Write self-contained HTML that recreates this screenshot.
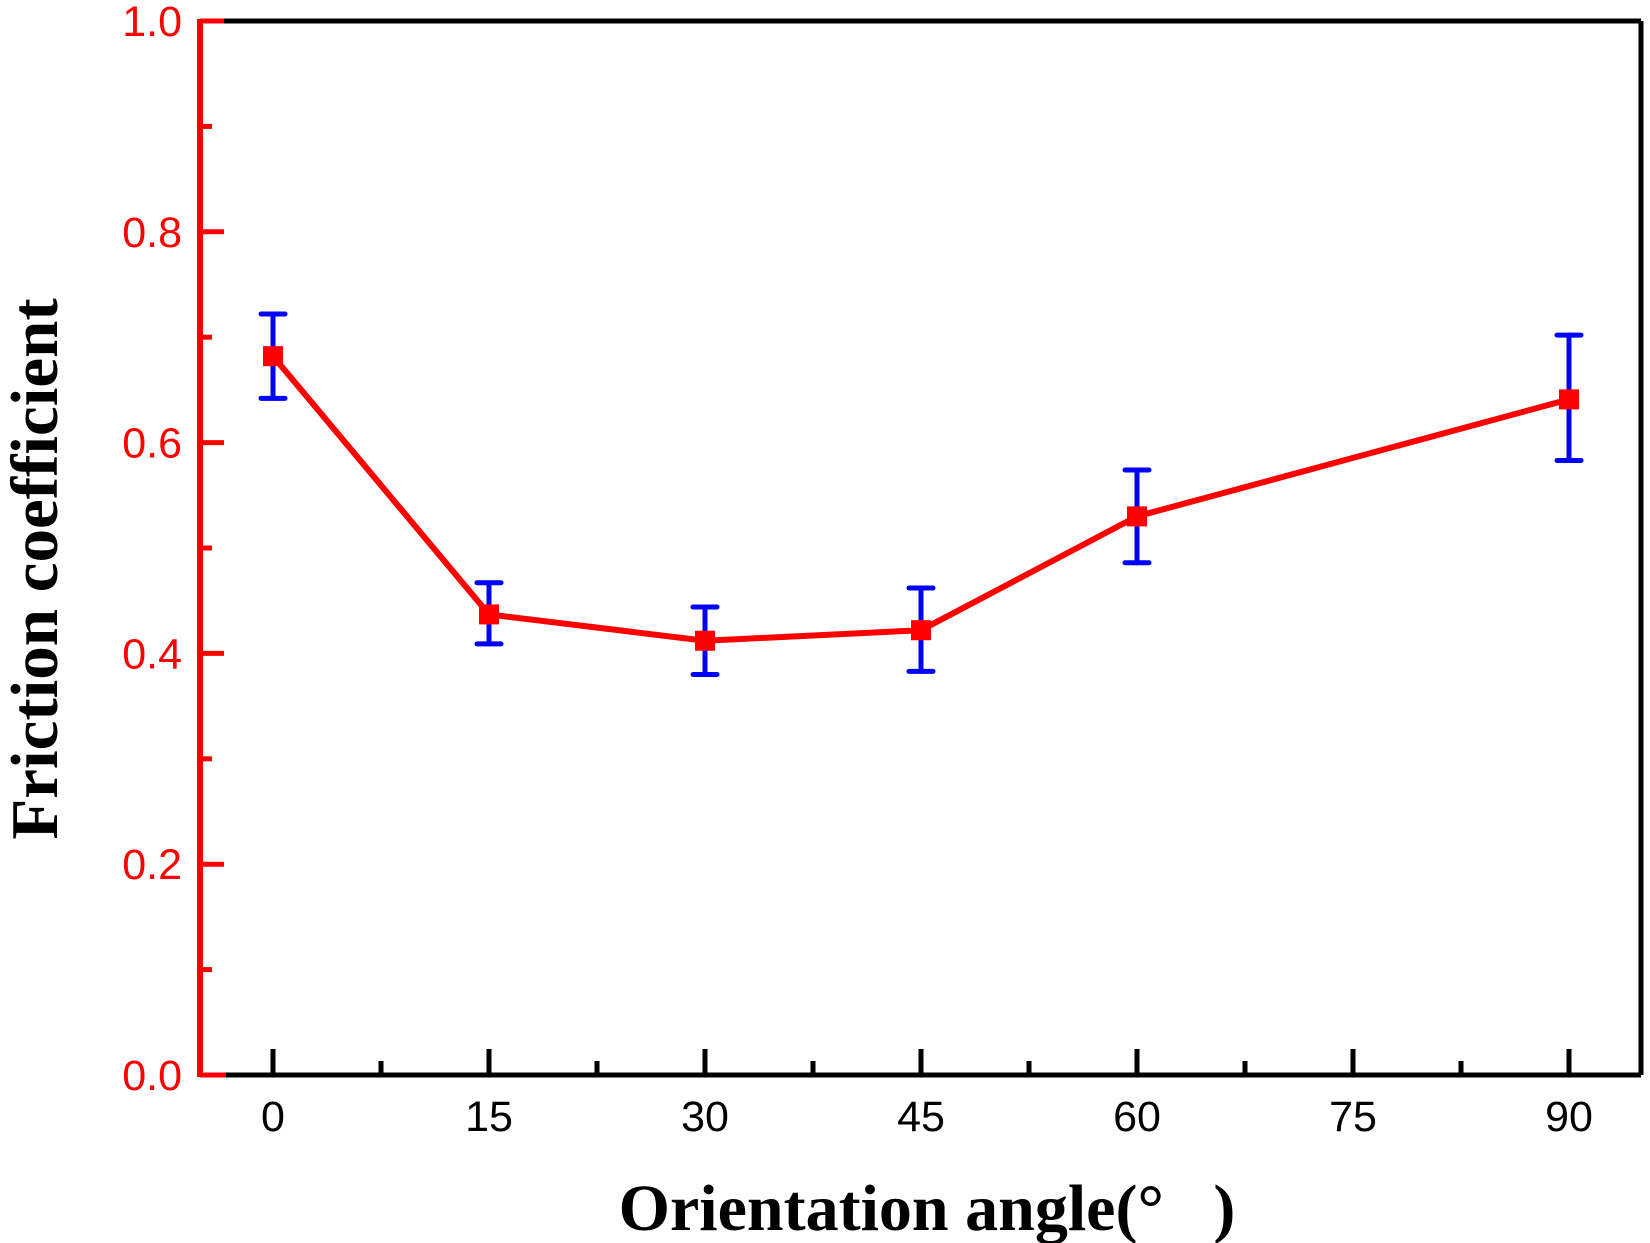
<!DOCTYPE html>
<html><head><meta charset="utf-8"><style>body{margin:0;background:#fff}svg{display:block}</style></head>
<body>
<svg id="chart" width="1650" height="1243" viewBox="0 0 1650 1243" xmlns="http://www.w3.org/2000/svg">
<g id="plot"></g>
</svg>
<script>
const categories = [0, 15, 30, 45, 60, 90];
const values = [0.682, 0.437, 0.412, 0.422, 0.530, 0.641];
const errUpper = [0.722, 0.467, 0.444, 0.462, 0.574, 0.702];
const errLower = [0.642, 0.409, 0.380, 0.383, 0.486, 0.583];
const xTicks = [0, 15, 30, 45, 60, 75, 90];
const yTicks = [0.0, 0.2, 0.4, 0.6, 0.8, 1.0];

const L = 200, R = 1641, T = 21, B = 1075;
const X = v => 273 + v * (216 / 15);
const Y = v => B - v * (B - T);
const NS = 'http://www.w3.org/2000/svg';
const g = document.getElementById('plot');
function mk(tag, attrs, parent) {
  const e = document.createElementNS(NS, tag);
  for (const k in attrs) e.setAttribute(k, attrs[k]);
  (parent || g).appendChild(e);
  return e;
}
let e;
e = mk('line', {x1: L, y1: T, x2: R, y2: T, stroke: '#000', 'stroke-width': 5});
 
e = mk('line', {x1: R, y1: T, x2: R, y2: B, stroke: '#000', 'stroke-width': 5});
 
e = mk('line', {x1: L, y1: B, x2: R, y2: B, stroke: '#000', 'stroke-width': 5});
 
e = mk('line', {x1: L, y1: B, x2: L + 26, y2: B, stroke: '#f00', 'stroke-width': 5});
 
e = mk('line', {x1: L, y1: T - 2, x2: L, y2: B + 2, stroke: '#f00', 'stroke-width': 6});
 
for (let i = 0; i <= 10; i++) {
  const v = i / 10, major = i % 2 === 0;
  e = mk('line', {x1: L, y1: Y(v), x2: L + (major ? 24 : 12), y2: Y(v), stroke: '#f00', 'stroke-width': 5});
   
}
yTicks.forEach(v => {
  e = mk('text', {x: 182, y: Y(v) + 15, 'text-anchor': 'end', fill: '#f00', 'font-family': 'Liberation Sans, sans-serif', 'font-size': 43});
  e.textContent = v.toFixed(1);
   
});
xTicks.forEach((v, i) => {
  e = mk('line', {x1: X(v), y1: B, x2: X(v), y2: B - 26, stroke: '#000', 'stroke-width': 5});
   
  if (i < xTicks.length - 1) {
    const m = v + 7.5;
    e = mk('line', {x1: X(m), y1: B, x2: X(m), y2: B - 14, stroke: '#000', 'stroke-width': 5});
     
  }
  e = mk('text', {x: X(v), y: 1131, 'text-anchor': 'middle', fill: '#000', 'font-family': 'Liberation Sans, sans-serif', 'font-size': 43});
  e.textContent = v;
   
});
e = mk('polyline', {points: categories.map((c, i) => X(c) + ',' + Y(values[i])).join(' '), fill: 'none', stroke: '#f00', 'stroke-width': 6, 'stroke-linejoin': 'round'});
 
categories.forEach((c, i) => {
  const x = X(c);
  const eg = mk('g', {stroke: '#00f', 'stroke-width': 5, 'stroke-linecap': 'round'});
   
  mk('line', {x1: x, y1: Y(errUpper[i]), x2: x, y2: Y(errLower[i])}, eg);
  mk('line', {x1: x - 12, y1: Y(errUpper[i]), x2: x + 12, y2: Y(errUpper[i])}, eg);
  mk('line', {x1: x - 12, y1: Y(errLower[i]), x2: x + 12, y2: Y(errLower[i])}, eg);
});
categories.forEach((c, i) => {
  e = mk('rect', {x: X(c) - 10, y: Y(values[i]) - 10, width: 20, height: 20, fill: '#f00'});
   
});
e = mk('text', {x: 927, y: 1230, 'text-anchor': 'middle', fill: '#000', 'font-family': 'Liberation Serif, serif', 'font-weight': 'bold', 'font-size': 66, 'xml:space': 'preserve'});
e.textContent = 'Orientation angle(°\u00a0\u00a0\u00a0)';
 
e = mk('text', {x: 0, y: 0, 'text-anchor': 'middle', fill: '#000', 'font-family': 'Liberation Serif, serif', 'font-weight': 'bold', 'font-size': 67, transform: 'translate(57,569) rotate(-90)'});
e.textContent = 'Friction coefficient';
 
</script>
</body></html>
